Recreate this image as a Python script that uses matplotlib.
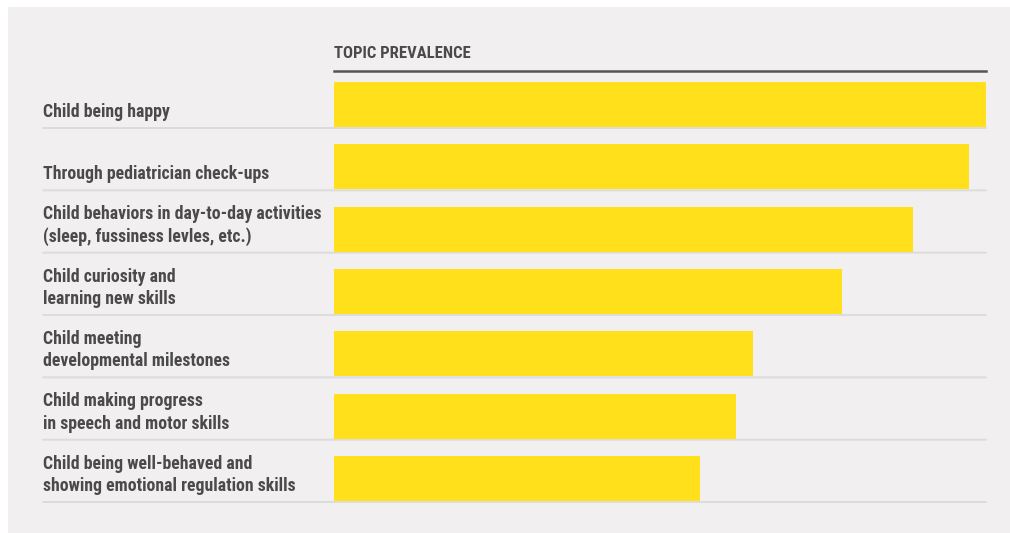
import matplotlib
matplotlib.use('Agg')
import matplotlib.pyplot as plt
from matplotlib import font_manager
from matplotlib.patches import Rectangle

topics = ["Child being happy",
          "Through pediatrician check-ups",
          "Child behaviors in day-to-day activities\n(sleep, fussiness levles, etc.)",
          "Child curiosity and\nlearning new skills",
          "Child meeting\ndevelopmental milestones",
          "Child making progress\nin speech and motor skills",
          "Child being well-behaved and\nshowing emotional regulation skills"]
prevalence = [100, 97.4, 88.8, 77.9, 64.3, 61.7, 56.1]
title = "TOPIC PREVALENCE"

W, H = 1010, 533
installed = {f.name for f in font_manager.fontManager.ttflist}
for cand in ['Liberation Sans Narrow', 'Roboto Condensed', 'Open Sans Condensed',
             'DejaVu Sans Condensed', 'Roboto', 'DejaVu Sans']:
    if cand in installed:
        fam = cand
        break
print('font:', fam)
txt_col = '#4a4a4a'
bar_col = '#ffe01b'
bg_col = '#f1eff0'

fig = plt.figure(figsize=(W / 100, H / 100), dpi=100, facecolor='white')
fig.patches.append(Rectangle((8 / W, 0), 1002 / W, 526 / H, transform=fig.transFigure,
                             facecolor=bg_col, edgecolor='none', zorder=-10))

# pick font sizes so text widths match the reference
r = fig.canvas.get_renderer()
probe = fig.text(0, 0, "showing emotional regulation skills", fontsize=10,
                 fontweight='bold', family=fam)
lab_fs = 10 * 253 / probe.get_window_extent(r).width
probe.remove()
probe = fig.text(0, 0, title, fontsize=10, fontweight='bold', family=fam)
tit_fs = 10 * 136 / probe.get_window_extent(r).width
probe.remove()

# axes in pixel terms: x 334..986, y 71..503
ax = fig.add_axes([334 / W, 1 - 503 / H, (986 - 334) / W, (503 - 71) / H])
ax.set_facecolor('none')
pitch = 62.33
ax.set_ylim((503 - 104.5) / pitch, (71 - 104.5) / pitch)
ax.set_xlim(0, 100)
for s in ax.spines.values():
    s.set_visible(False)
ax.set_xticks([])
ax.set_yticks([])

rows = list(range(len(topics)))
ax.barh(rows, prevalence, height=45 / pitch, color=bar_col, zorder=2)

# row separators across label column and bars
for i in rows:
    y = i + 23.5 / pitch
    ax.annotate('', xy=(986 / W, y), xytext=(43 / W, y),
                xycoords=(fig.transFigure, ax.transData),
                textcoords=(fig.transFigure, ax.transData),
                arrowprops=dict(arrowstyle='-', color='#dcdcdc', lw=1.4,
                                shrinkA=0, shrinkB=0), zorder=1)

# labels, each line drawn on its own baseline
for i, lab in zip(rows, topics):
    lines = lab.split('\n')
    n = len(lines)
    for j, line in enumerate(lines):
        ax.annotate(line, xy=(43 / W, i), xycoords=(fig.transFigure, ax.transData),
                    xytext=(0, -12.5 + (n - 1 - j) * 22.3), textcoords='offset pixels',
                    va='baseline', ha='left', fontsize=lab_fs, fontweight='bold',
                    color=txt_col, family=fam, annotation_clip=False)

# header
fig.text(334 / W, 1 - 58 / H, title, va='baseline', ha='left', fontsize=tit_fs,
         fontweight='bold', color=txt_col, family=fam)
fig.add_artist(plt.Line2D([334 / W, 986 / W], [1 - 70.5 / H, 1 - 70.5 / H],
                          transform=fig.transFigure, color='#555555', lw=1.8))

fig.savefig('out.png', dpi=100, facecolor='white')
